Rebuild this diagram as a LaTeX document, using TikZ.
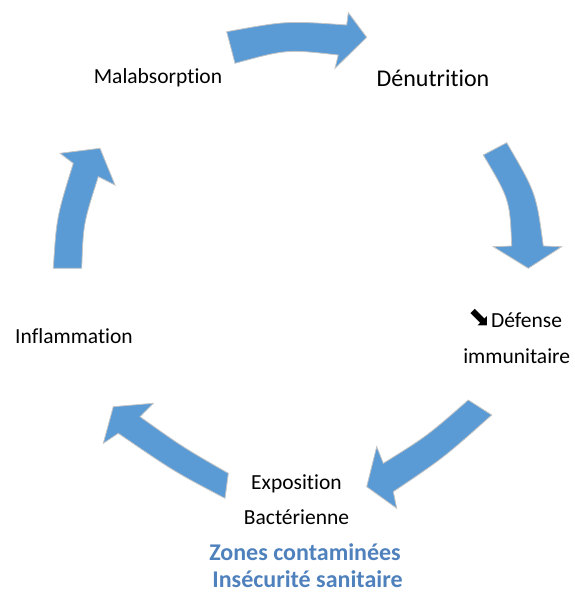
\documentclass[tikz,border=0pt]{standalone}
\usepackage{fontspec}
\setmainfont{Carlito}[Ligatures=NoCommon]
\newfontfamily\symfont{DejaVu Sans}
\definecolor{arrowblue}{HTML}{5B9BD5}
\definecolor{arrowedge}{HTML}{C4C4C4}
\definecolor{labelblue}{HTML}{4F81BD}
\begin{document}
\begin{tikzpicture}[x=1pt,y=-1pt,
  blockarrow/.style={fill=arrowblue,draw=arrowedge,line width=0.8pt,line join=miter},
  lbl/.style={inner sep=0pt,anchor=base,font=\fontsize{21.5}{26}\selectfont},
  biglbl/.style={inner sep=0pt,anchor=base,font=\fontsize{24}{29}\selectfont},
  bluelbl/.style={inner sep=0pt,anchor=base,text=labelblue,font=\bfseries\fontsize{24}{29}\selectfont}]
\useasboundingbox (0,0) rectangle (574,592);
% top arrow
\draw[blockarrow] (226.7,31.7) .. controls (286.7,20.8) .. (346.7,25) -- (348.3,12.7) -- (366.7,37.3) -- (335,68.3) -- (338.3,55) .. controls (286.7,49.2) .. (235,63.3) -- cycle;
% right arrow
\draw[blockarrow] (483.3,155) -- (506.7,142.7) .. controls (536.1,193) .. (543.3,246) -- (561.7,246.7) -- (528.3,268.3) -- (493.3,246.7) -- (511.7,246) .. controls (509.8,199.8) .. (483.3,155) -- cycle;
% bottom-right arrow
\draw[blockarrow] (468.3,400) .. controls (427,436.1) .. (383.3,463.3) -- (376.7,446.7) -- (366.7,486.7) -- (396.7,508.3) -- (393.3,491.7) .. controls (443.6,457.8) .. (491.7,415) -- cycle;
% bottom-left arrow
\draw[blockarrow] (228.3,473.3) .. controls (183,447.3) .. (140,416.7) -- (153.3,403.3) -- (113.3,406.7) -- (103.3,443.3) -- (118.3,433.3) .. controls (173.9,471.4) .. (225,498.3) -- cycle;
% left arrow
\draw[blockarrow] (53.3,268.3) .. controls (56.6,217) .. (73.3,163.3) -- (60,153.3) -- (100,148.3) -- (115,185) -- (98.3,176.7) .. controls (83.3,223.6) .. (81.7,268.3) -- cycle;
% labels
\node[lbl] (malab) at (158,83) {Malabsorption};
\node[biglbl] (denut) at (433,86) {Dénutrition};
\node[lbl,anchor=base west] (defense) at (491,327) {Défense};
\node[inner sep=0pt,anchor=base east,font=\fontsize{27}{30}\selectfont] (sym) at ([xshift=0pt,yshift=1pt]defense.base west) {\symfont ⬊};
\node[lbl] (immun) at (516.7,363.5) {immunitaire};
\node[lbl] (inflam) at (74,343.5) {Inflammation};
\node[lbl] (expo) at (296.5,489) {Exposition};
\node[lbl] (bact) at (296.5,524) {Bactérienne};
\node[bluelbl] (zones) at (305,560) {Zones contaminées};
\node[bluelbl] (insec) at (307.5,587) {Insécurité sanitaire};
\end{tikzpicture}
\end{document}
